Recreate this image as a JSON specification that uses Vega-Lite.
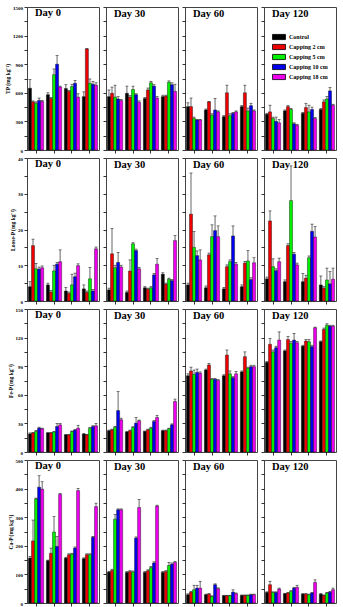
{
"$schema":"https://vega.github.io/schema/vega-lite/v6.json",
"padding":{"left":5,"top":4,"right":3,"bottom":2},
"datasets":{"p":[
{"v":"TP","d":0,"g":1,"s":"Control","y":648,"h":740},{"v":"TP","d":0,"g":1,"s":"Capping 2 cm","y":505,"h":515},{"v":"TP","d":0,"g":1,"s":"Capping 5 cm","y":490,"h":505},{"v":"TP","d":0,"g":1,"s":"Capping 10 cm","y":520,"h":545},{"v":"TP","d":0,"g":1,"s":"Capping 18 cm","y":510,"h":520},
{"v":"TP","d":0,"g":2,"s":"Control","y":580,"h":600},{"v":"TP","d":0,"g":2,"s":"Capping 2 cm","y":540,"h":550},{"v":"TP","d":0,"g":2,"s":"Capping 5 cm","y":790,"h":850},{"v":"TP","d":0,"g":2,"s":"Capping 10 cm","y":900,"h":990},{"v":"TP","d":0,"g":2,"s":"Capping 18 cm","y":660,"h":670},
{"v":"TP","d":0,"g":3,"s":"Control","y":645,"h":685},{"v":"TP","d":0,"g":3,"s":"Capping 2 cm","y":615,"h":625},{"v":"TP","d":0,"g":3,"s":"Capping 5 cm","y":665,"h":690},{"v":"TP","d":0,"g":3,"s":"Capping 10 cm","y":700,"h":730},{"v":"TP","d":0,"g":3,"s":"Capping 18 cm","y":555,"h":590},
{"v":"TP","d":0,"g":4,"s":"Control","y":560,"h":610},{"v":"TP","d":0,"g":4,"s":"Capping 2 cm","y":1060,"h":1065},{"v":"TP","d":0,"g":4,"s":"Capping 5 cm","y":700,"h":745},{"v":"TP","d":0,"g":4,"s":"Capping 10 cm","y":690,"h":720},{"v":"TP","d":0,"g":4,"s":"Capping 18 cm","y":680,"h":705},
{"v":"TP","d":30,"g":1,"s":"Control","y":560,"h":630},{"v":"TP","d":30,"g":1,"s":"Capping 2 cm","y":595,"h":660},{"v":"TP","d":30,"g":1,"s":"Capping 5 cm","y":555,"h":680},{"v":"TP","d":30,"g":1,"s":"Capping 10 cm","y":535,"h":560},{"v":"TP","d":30,"g":1,"s":"Capping 18 cm","y":520,"h":530},
{"v":"TP","d":30,"g":2,"s":"Control","y":595,"h":670},{"v":"TP","d":30,"g":2,"s":"Capping 2 cm","y":555,"h":570},{"v":"TP","d":30,"g":2,"s":"Capping 5 cm","y":635,"h":670},{"v":"TP","d":30,"g":2,"s":"Capping 10 cm","y":580,"h":590},{"v":"TP","d":30,"g":2,"s":"Capping 18 cm","y":500,"h":515},
{"v":"TP","d":30,"g":3,"s":"Control","y":540,"h":550},{"v":"TP","d":30,"g":3,"s":"Capping 2 cm","y":630,"h":650},{"v":"TP","d":30,"g":3,"s":"Capping 5 cm","y":705,"h":720},{"v":"TP","d":30,"g":3,"s":"Capping 10 cm","y":670,"h":685},{"v":"TP","d":30,"g":3,"s":"Capping 18 cm","y":545,"h":560},
{"v":"TP","d":30,"g":4,"s":"Control","y":560,"h":575},{"v":"TP","d":30,"g":4,"s":"Capping 2 cm","y":565,"h":575},{"v":"TP","d":30,"g":4,"s":"Capping 5 cm","y":710,"h":725},{"v":"TP","d":30,"g":4,"s":"Capping 10 cm","y":685,"h":705},{"v":"TP","d":30,"g":4,"s":"Capping 18 cm","y":615,"h":690},
{"v":"TP","d":60,"g":1,"s":"Control","y":455,"h":495},{"v":"TP","d":60,"g":1,"s":"Capping 2 cm","y":455,"h":545},{"v":"TP","d":60,"g":1,"s":"Capping 5 cm","y":330,"h":345},{"v":"TP","d":60,"g":1,"s":"Capping 10 cm","y":315,"h":320},{"v":"TP","d":60,"g":1,"s":"Capping 18 cm","y":315,"h":320},
{"v":"TP","d":60,"g":2,"s":"Control","y":420,"h":430},{"v":"TP","d":60,"g":2,"s":"Capping 2 cm","y":505,"h":510},{"v":"TP","d":60,"g":2,"s":"Capping 5 cm","y":365,"h":380},{"v":"TP","d":60,"g":2,"s":"Capping 10 cm","y":420,"h":540},{"v":"TP","d":60,"g":2,"s":"Capping 18 cm","y":400,"h":410},
{"v":"TP","d":60,"g":3,"s":"Control","y":350,"h":360},{"v":"TP","d":60,"g":3,"s":"Capping 2 cm","y":600,"h":680},{"v":"TP","d":60,"g":3,"s":"Capping 5 cm","y":360,"h":380},{"v":"TP","d":60,"g":3,"s":"Capping 10 cm","y":385,"h":395},{"v":"TP","d":60,"g":3,"s":"Capping 18 cm","y":400,"h":410},
{"v":"TP","d":60,"g":4,"s":"Control","y":455,"h":465},{"v":"TP","d":60,"g":4,"s":"Capping 2 cm","y":600,"h":680},{"v":"TP","d":60,"g":4,"s":"Capping 5 cm","y":410,"h":440},{"v":"TP","d":60,"g":4,"s":"Capping 10 cm","y":465,"h":490},{"v":"TP","d":60,"g":4,"s":"Capping 18 cm","y":410,"h":420},
{"v":"TP","d":120,"g":1,"s":"Control","y":375,"h":385},{"v":"TP","d":120,"g":1,"s":"Capping 2 cm","y":400,"h":470},{"v":"TP","d":120,"g":1,"s":"Capping 5 cm","y":330,"h":345},{"v":"TP","d":120,"g":1,"s":"Capping 10 cm","y":300,"h":345},{"v":"TP","d":120,"g":1,"s":"Capping 18 cm","y":285,"h":320},
{"v":"TP","d":120,"g":2,"s":"Control","y":410,"h":420},{"v":"TP","d":120,"g":2,"s":"Capping 2 cm","y":455,"h":465},{"v":"TP","d":120,"g":2,"s":"Capping 5 cm","y":425,"h":435},{"v":"TP","d":120,"g":2,"s":"Capping 10 cm","y":275,"h":285},{"v":"TP","d":120,"g":2,"s":"Capping 18 cm","y":260,"h":270},
{"v":"TP","d":120,"g":3,"s":"Control","y":385,"h":395},{"v":"TP","d":120,"g":3,"s":"Capping 2 cm","y":445,"h":490},{"v":"TP","d":120,"g":3,"s":"Capping 5 cm","y":400,"h":470},{"v":"TP","d":120,"g":3,"s":"Capping 10 cm","y":425,"h":450},{"v":"TP","d":120,"g":3,"s":"Capping 18 cm","y":330,"h":340},
{"v":"TP","d":120,"g":4,"s":"Control","y":425,"h":435},{"v":"TP","d":120,"g":4,"s":"Capping 2 cm","y":505,"h":525},{"v":"TP","d":120,"g":4,"s":"Capping 5 cm","y":535,"h":560},{"v":"TP","d":120,"g":4,"s":"Capping 10 cm","y":620,"h":655},{"v":"TP","d":120,"g":4,"s":"Capping 18 cm","y":470,"h":480},

{"v":"L","d":0,"g":1,"s":"Control","y":4.0,"h":5.4},{"v":"L","d":0,"g":1,"s":"Capping 2 cm","y":15.5,"h":17.3},{"v":"L","d":0,"g":1,"s":"Capping 5 cm","y":9.0,"h":10.5},{"v":"L","d":0,"g":1,"s":"Capping 10 cm","y":8.9,"h":9.5},{"v":"L","d":0,"g":1,"s":"Capping 18 cm","y":9.3,"h":9.8},
{"v":"L","d":0,"g":2,"s":"Control","y":4.5,"h":5.0},{"v":"L","d":0,"g":2,"s":"Capping 2 cm","y":2.5,"h":3.0},{"v":"L","d":0,"g":2,"s":"Capping 5 cm","y":8.4,"h":10.0},{"v":"L","d":0,"g":2,"s":"Capping 10 cm","y":10.3,"h":10.8},{"v":"L","d":0,"g":2,"s":"Capping 18 cm","y":11.0,"h":14.3},
{"v":"L","d":0,"g":3,"s":"Control","y":2.8,"h":3.8},{"v":"L","d":0,"g":3,"s":"Capping 2 cm","y":2.1,"h":2.5},{"v":"L","d":0,"g":3,"s":"Capping 5 cm","y":4.5,"h":7.5},{"v":"L","d":0,"g":3,"s":"Capping 10 cm","y":6.8,"h":7.8},{"v":"L","d":0,"g":3,"s":"Capping 18 cm","y":9.9,"h":10.4},
{"v":"L","d":0,"g":4,"s":"Control","y":3.4,"h":4.5},{"v":"L","d":0,"g":4,"s":"Capping 2 cm","y":2.4,"h":2.8},{"v":"L","d":0,"g":4,"s":"Capping 5 cm","y":6.2,"h":9.4},{"v":"L","d":0,"g":4,"s":"Capping 10 cm","y":2.8,"h":3.2},{"v":"L","d":0,"g":4,"s":"Capping 18 cm","y":14.6,"h":15.1},
{"v":"L","d":30,"g":1,"s":"Control","y":3.1,"h":3.6},{"v":"L","d":30,"g":1,"s":"Capping 2 cm","y":13.2,"h":20.3},{"v":"L","d":30,"g":1,"s":"Capping 5 cm","y":9.3,"h":10.0},{"v":"L","d":30,"g":1,"s":"Capping 10 cm","y":10.8,"h":13.6},{"v":"L","d":30,"g":1,"s":"Capping 18 cm","y":9.5,"h":10.0},
{"v":"L","d":30,"g":2,"s":"Control","y":2.4,"h":2.8},{"v":"L","d":30,"g":2,"s":"Capping 2 cm","y":8.4,"h":11.5},{"v":"L","d":30,"g":2,"s":"Capping 5 cm","y":16.0,"h":16.3},{"v":"L","d":30,"g":2,"s":"Capping 10 cm","y":14.1,"h":14.5},{"v":"L","d":30,"g":2,"s":"Capping 18 cm","y":9.0,"h":9.4},
{"v":"L","d":30,"g":3,"s":"Control","y":3.7,"h":4.0},{"v":"L","d":30,"g":3,"s":"Capping 2 cm","y":3.3,"h":3.6},{"v":"L","d":30,"g":3,"s":"Capping 5 cm","y":3.7,"h":4.0},{"v":"L","d":30,"g":3,"s":"Capping 10 cm","y":7.3,"h":7.7},{"v":"L","d":30,"g":3,"s":"Capping 18 cm","y":10.3,"h":11.9},
{"v":"L","d":30,"g":4,"s":"Control","y":7.5,"h":7.9},{"v":"L","d":30,"g":4,"s":"Capping 2 cm","y":4.7,"h":5.0},{"v":"L","d":30,"g":4,"s":"Capping 5 cm","y":6.1,"h":6.4},{"v":"L","d":30,"g":4,"s":"Capping 10 cm","y":5.7,"h":6.0},{"v":"L","d":30,"g":4,"s":"Capping 18 cm","y":16.9,"h":18.3},
{"v":"L","d":60,"g":1,"s":"Control","y":4.5,"h":5.0},{"v":"L","d":60,"g":1,"s":"Capping 2 cm","y":24.3,"h":35.8},{"v":"L","d":60,"g":1,"s":"Capping 5 cm","y":15.0,"h":19.4},{"v":"L","d":60,"g":1,"s":"Capping 10 cm","y":12.7,"h":14.0},{"v":"L","d":60,"g":1,"s":"Capping 18 cm","y":11.5,"h":14.3},
{"v":"L","d":60,"g":2,"s":"Control","y":3.7,"h":4.2},{"v":"L","d":60,"g":2,"s":"Capping 2 cm","y":12.9,"h":13.4},{"v":"L","d":60,"g":2,"s":"Capping 5 cm","y":18.0,"h":21.3},{"v":"L","d":60,"g":2,"s":"Capping 10 cm","y":19.7,"h":23.8},{"v":"L","d":60,"g":2,"s":"Capping 18 cm","y":18.0,"h":21.0},
{"v":"L","d":60,"g":3,"s":"Control","y":3.4,"h":3.8},{"v":"L","d":60,"g":3,"s":"Capping 2 cm","y":9.6,"h":10.1},{"v":"L","d":60,"g":3,"s":"Capping 5 cm","y":11.0,"h":11.5},{"v":"L","d":60,"g":3,"s":"Capping 10 cm","y":18.2,"h":21.0},{"v":"L","d":60,"g":3,"s":"Capping 18 cm","y":10.3,"h":10.8},
{"v":"L","d":60,"g":4,"s":"Control","y":4.0,"h":4.5},{"v":"L","d":60,"g":4,"s":"Capping 2 cm","y":10.6,"h":11.1},{"v":"L","d":60,"g":4,"s":"Capping 5 cm","y":11.2,"h":14.1},{"v":"L","d":60,"g":4,"s":"Capping 10 cm","y":6.0,"h":6.5},{"v":"L","d":60,"g":4,"s":"Capping 18 cm","y":10.7,"h":12.1},
{"v":"L","d":120,"g":1,"s":"Control","y":6.2,"h":6.7},{"v":"L","d":120,"g":1,"s":"Capping 2 cm","y":22.4,"h":25.2},{"v":"L","d":120,"g":1,"s":"Capping 5 cm","y":9.6,"h":11.8},{"v":"L","d":120,"g":1,"s":"Capping 10 cm","y":8.5,"h":9.0},{"v":"L","d":120,"g":1,"s":"Capping 18 cm","y":11.0,"h":12.0},
{"v":"L","d":120,"g":2,"s":"Control","y":5.4,"h":5.9},{"v":"L","d":120,"g":2,"s":"Capping 2 cm","y":15.5,"h":16.0},{"v":"L","d":120,"g":2,"s":"Capping 5 cm","y":28.1,"h":37.8},{"v":"L","d":120,"g":2,"s":"Capping 10 cm","y":13.1,"h":13.6},{"v":"L","d":120,"g":2,"s":"Capping 18 cm","y":10.1,"h":10.6},
{"v":"L","d":120,"g":3,"s":"Control","y":5.4,"h":7.7},{"v":"L","d":120,"g":3,"s":"Capping 2 cm","y":6.4,"h":7.2},{"v":"L","d":120,"g":3,"s":"Capping 5 cm","y":12.1,"h":12.6},{"v":"L","d":120,"g":3,"s":"Capping 10 cm","y":19.5,"h":21.5},{"v":"L","d":120,"g":3,"s":"Capping 18 cm","y":17.9,"h":20.8},
{"v":"L","d":120,"g":4,"s":"Control","y":4.5,"h":7.0},{"v":"L","d":120,"g":4,"s":"Capping 2 cm","y":3.6,"h":4.0},{"v":"L","d":120,"g":4,"s":"Capping 5 cm","y":5.9,"h":9.2},{"v":"L","d":120,"g":4,"s":"Capping 10 cm","y":4.8,"h":8.2},{"v":"L","d":120,"g":4,"s":"Capping 18 cm","y":6.1,"h":9.2},

{"v":"Fe","d":0,"g":1,"s":"Control","y":19,"h":20},{"v":"Fe","d":0,"g":1,"s":"Capping 2 cm","y":20,"h":20.5},{"v":"Fe","d":0,"g":1,"s":"Capping 5 cm","y":21.6,"h":22.5},{"v":"Fe","d":0,"g":1,"s":"Capping 10 cm","y":25,"h":26},{"v":"Fe","d":0,"g":1,"s":"Capping 18 cm","y":24.4,"h":25},
{"v":"Fe","d":0,"g":2,"s":"Control","y":20,"h":20.5},{"v":"Fe","d":0,"g":2,"s":"Capping 2 cm","y":20,"h":20.5},{"v":"Fe","d":0,"g":2,"s":"Capping 5 cm","y":21,"h":21.5},{"v":"Fe","d":0,"g":2,"s":"Capping 10 cm","y":26.8,"h":30},{"v":"Fe","d":0,"g":2,"s":"Capping 18 cm","y":28.5,"h":30},
{"v":"Fe","d":0,"g":3,"s":"Control","y":18,"h":18.5},{"v":"Fe","d":0,"g":3,"s":"Capping 2 cm","y":18,"h":18.5},{"v":"Fe","d":0,"g":3,"s":"Capping 5 cm","y":21.6,"h":22},{"v":"Fe","d":0,"g":3,"s":"Capping 10 cm","y":23,"h":23.5},{"v":"Fe","d":0,"g":3,"s":"Capping 18 cm","y":25,"h":28},
{"v":"Fe","d":0,"g":4,"s":"Control","y":18.8,"h":19.3},{"v":"Fe","d":0,"g":4,"s":"Capping 2 cm","y":18,"h":18.5},{"v":"Fe","d":0,"g":4,"s":"Capping 5 cm","y":25,"h":25.5},{"v":"Fe","d":0,"g":4,"s":"Capping 10 cm","y":26.8,"h":27.5},{"v":"Fe","d":0,"g":4,"s":"Capping 18 cm","y":27.5,"h":30},
{"v":"Fe","d":30,"g":1,"s":"Control","y":22.3,"h":23},{"v":"Fe","d":30,"g":1,"s":"Capping 2 cm","y":23.3,"h":24},{"v":"Fe","d":30,"g":1,"s":"Capping 5 cm","y":26,"h":27},{"v":"Fe","d":30,"g":1,"s":"Capping 10 cm","y":43.5,"h":63.4},{"v":"Fe","d":30,"g":1,"s":"Capping 18 cm","y":33.8,"h":35.5},
{"v":"Fe","d":30,"g":2,"s":"Control","y":21,"h":21.5},{"v":"Fe","d":30,"g":2,"s":"Capping 2 cm","y":22.3,"h":23},{"v":"Fe","d":30,"g":2,"s":"Capping 5 cm","y":25.8,"h":26.5},{"v":"Fe","d":30,"g":2,"s":"Capping 10 cm","y":30.3,"h":36.2},{"v":"Fe","d":30,"g":2,"s":"Capping 18 cm","y":32.8,"h":33.5},
{"v":"Fe","d":30,"g":3,"s":"Control","y":21.6,"h":22},{"v":"Fe","d":30,"g":3,"s":"Capping 2 cm","y":23.3,"h":24},{"v":"Fe","d":30,"g":3,"s":"Capping 5 cm","y":25,"h":26},{"v":"Fe","d":30,"g":3,"s":"Capping 10 cm","y":32,"h":33},{"v":"Fe","d":30,"g":3,"s":"Capping 18 cm","y":36.2,"h":38.5},
{"v":"Fe","d":30,"g":4,"s":"Control","y":22.3,"h":23},{"v":"Fe","d":30,"g":4,"s":"Capping 2 cm","y":22.3,"h":23},{"v":"Fe","d":30,"g":4,"s":"Capping 5 cm","y":24.4,"h":25},{"v":"Fe","d":30,"g":4,"s":"Capping 10 cm","y":28.6,"h":29.5},{"v":"Fe","d":30,"g":4,"s":"Capping 18 cm","y":53,"h":55.5},
{"v":"Fe","d":60,"g":1,"s":"Control","y":80,"h":82},{"v":"Fe","d":60,"g":1,"s":"Capping 2 cm","y":85,"h":89},{"v":"Fe","d":60,"g":1,"s":"Capping 5 cm","y":81.5,"h":86},{"v":"Fe","d":60,"g":1,"s":"Capping 10 cm","y":83.6,"h":87},{"v":"Fe","d":60,"g":1,"s":"Capping 18 cm","y":82.6,"h":84},
{"v":"Fe","d":60,"g":2,"s":"Control","y":86,"h":87},{"v":"Fe","d":60,"g":2,"s":"Capping 2 cm","y":91.3,"h":93},{"v":"Fe","d":60,"g":2,"s":"Capping 5 cm","y":76.3,"h":77},{"v":"Fe","d":60,"g":2,"s":"Capping 10 cm","y":76.3,"h":77},{"v":"Fe","d":60,"g":2,"s":"Capping 18 cm","y":75,"h":76},
{"v":"Fe","d":60,"g":3,"s":"Control","y":80,"h":81},{"v":"Fe","d":60,"g":3,"s":"Capping 2 cm","y":101.7,"h":107},{"v":"Fe","d":60,"g":3,"s":"Capping 5 cm","y":82,"h":85},{"v":"Fe","d":60,"g":3,"s":"Capping 10 cm","y":78,"h":79},{"v":"Fe","d":60,"g":3,"s":"Capping 18 cm","y":82,"h":84.5},
{"v":"Fe","d":60,"g":4,"s":"Control","y":84,"h":85},{"v":"Fe","d":60,"g":4,"s":"Capping 2 cm","y":100,"h":105},{"v":"Fe","d":60,"g":4,"s":"Capping 5 cm","y":87.8,"h":89},{"v":"Fe","d":60,"g":4,"s":"Capping 10 cm","y":89.5,"h":91},{"v":"Fe","d":60,"g":4,"s":"Capping 18 cm","y":89.5,"h":91},
{"v":"Fe","d":120,"g":1,"s":"Control","y":94,"h":95},{"v":"Fe","d":120,"g":1,"s":"Capping 2 cm","y":113,"h":119},{"v":"Fe","d":120,"g":1,"s":"Capping 5 cm","y":105,"h":107},{"v":"Fe","d":120,"g":1,"s":"Capping 10 cm","y":109.4,"h":111},{"v":"Fe","d":120,"g":1,"s":"Capping 18 cm","y":117.4,"h":126},
{"v":"Fe","d":120,"g":2,"s":"Control","y":106,"h":107},{"v":"Fe","d":120,"g":2,"s":"Capping 2 cm","y":118,"h":121},{"v":"Fe","d":120,"g":2,"s":"Capping 5 cm","y":114,"h":116},{"v":"Fe","d":120,"g":2,"s":"Capping 10 cm","y":117.4,"h":124.4},{"v":"Fe","d":120,"g":2,"s":"Capping 18 cm","y":114.6,"h":116},
{"v":"Fe","d":120,"g":3,"s":"Control","y":111,"h":112},{"v":"Fe","d":120,"g":3,"s":"Capping 2 cm","y":116.4,"h":118},{"v":"Fe","d":120,"g":3,"s":"Capping 5 cm","y":115.7,"h":118},{"v":"Fe","d":120,"g":3,"s":"Capping 10 cm","y":110.5,"h":112},{"v":"Fe","d":120,"g":3,"s":"Capping 18 cm","y":130.3,"h":131},
{"v":"Fe","d":120,"g":4,"s":"Control","y":115.7,"h":116.5},{"v":"Fe","d":120,"g":4,"s":"Capping 2 cm","y":128.6,"h":130},{"v":"Fe","d":120,"g":4,"s":"Capping 5 cm","y":133,"h":134.5},{"v":"Fe","d":120,"g":4,"s":"Capping 10 cm","y":132,"h":133},{"v":"Fe","d":120,"g":4,"s":"Capping 18 cm","y":132,"h":133},

{"v":"Ca","d":0,"g":1,"s":"Control","y":157,"h":163},{"v":"Ca","d":0,"g":1,"s":"Capping 2 cm","y":217,"h":290},{"v":"Ca","d":0,"g":1,"s":"Capping 5 cm","y":364,"h":367},{"v":"Ca","d":0,"g":1,"s":"Capping 10 cm","y":405,"h":445},{"v":"Ca","d":0,"g":1,"s":"Capping 18 cm","y":398,"h":424},
{"v":"Ca","d":0,"g":2,"s":"Control","y":148,"h":150},{"v":"Ca","d":0,"g":2,"s":"Capping 2 cm","y":174,"h":192},{"v":"Ca","d":0,"g":2,"s":"Capping 5 cm","y":248,"h":302},{"v":"Ca","d":0,"g":2,"s":"Capping 10 cm","y":198,"h":232},{"v":"Ca","d":0,"g":2,"s":"Capping 18 cm","y":380,"h":383},
{"v":"Ca","d":0,"g":3,"s":"Control","y":157,"h":160},{"v":"Ca","d":0,"g":3,"s":"Capping 2 cm","y":169,"h":172},{"v":"Ca","d":0,"g":3,"s":"Capping 5 cm","y":171,"h":174},{"v":"Ca","d":0,"g":3,"s":"Capping 10 cm","y":192,"h":196},{"v":"Ca","d":0,"g":3,"s":"Capping 18 cm","y":393,"h":401},
{"v":"Ca","d":0,"g":4,"s":"Control","y":155,"h":158},{"v":"Ca","d":0,"g":4,"s":"Capping 2 cm","y":169,"h":172},{"v":"Ca","d":0,"g":4,"s":"Capping 5 cm","y":169,"h":172},{"v":"Ca","d":0,"g":4,"s":"Capping 10 cm","y":230,"h":233},{"v":"Ca","d":0,"g":4,"s":"Capping 18 cm","y":337,"h":349},
{"v":"Ca","d":30,"g":1,"s":"Control","y":108,"h":111},{"v":"Ca","d":30,"g":1,"s":"Capping 2 cm","y":114,"h":118},{"v":"Ca","d":30,"g":1,"s":"Capping 5 cm","y":293,"h":310},{"v":"Ca","d":30,"g":1,"s":"Capping 10 cm","y":326,"h":329},{"v":"Ca","d":30,"g":1,"s":"Capping 18 cm","y":326,"h":329},
{"v":"Ca","d":30,"g":2,"s":"Control","y":107,"h":110},{"v":"Ca","d":30,"g":2,"s":"Capping 2 cm","y":110,"h":113},{"v":"Ca","d":30,"g":2,"s":"Capping 5 cm","y":108,"h":112},{"v":"Ca","d":30,"g":2,"s":"Capping 10 cm","y":227,"h":231},{"v":"Ca","d":30,"g":2,"s":"Capping 18 cm","y":334,"h":362},
{"v":"Ca","d":30,"g":3,"s":"Control","y":107,"h":110},{"v":"Ca","d":30,"g":3,"s":"Capping 2 cm","y":113,"h":116},{"v":"Ca","d":30,"g":3,"s":"Capping 5 cm","y":124,"h":128},{"v":"Ca","d":30,"g":3,"s":"Capping 10 cm","y":140,"h":144},{"v":"Ca","d":30,"g":3,"s":"Capping 18 cm","y":339,"h":342},
{"v":"Ca","d":30,"g":4,"s":"Control","y":107,"h":110},{"v":"Ca","d":30,"g":4,"s":"Capping 2 cm","y":110,"h":113},{"v":"Ca","d":30,"g":4,"s":"Capping 5 cm","y":131,"h":142},{"v":"Ca","d":30,"g":4,"s":"Capping 10 cm","y":136,"h":140},{"v":"Ca","d":30,"g":4,"s":"Capping 18 cm","y":142,"h":145},
{"v":"Ca","d":60,"g":1,"s":"Control","y":29,"h":32},{"v":"Ca","d":60,"g":1,"s":"Capping 2 cm","y":38,"h":41},{"v":"Ca","d":60,"g":1,"s":"Capping 5 cm","y":46.5,"h":62},{"v":"Ca","d":60,"g":1,"s":"Capping 10 cm","y":52,"h":62},{"v":"Ca","d":60,"g":1,"s":"Capping 18 cm","y":52,"h":76},
{"v":"Ca","d":60,"g":2,"s":"Control","y":29,"h":31},{"v":"Ca","d":60,"g":2,"s":"Capping 2 cm","y":31,"h":33},{"v":"Ca","d":60,"g":2,"s":"Capping 5 cm","y":23,"h":25},{"v":"Ca","d":60,"g":2,"s":"Capping 10 cm","y":64,"h":67},{"v":"Ca","d":60,"g":2,"s":"Capping 18 cm","y":50,"h":53},
{"v":"Ca","d":60,"g":3,"s":"Control","y":25.6,"h":27},{"v":"Ca","d":60,"g":3,"s":"Capping 2 cm","y":25.6,"h":27},{"v":"Ca","d":60,"g":3,"s":"Capping 5 cm","y":25.6,"h":27},{"v":"Ca","d":60,"g":3,"s":"Capping 10 cm","y":38,"h":46},{"v":"Ca","d":60,"g":3,"s":"Capping 18 cm","y":32.6,"h":35},
{"v":"Ca","d":60,"g":4,"s":"Control","y":26.7,"h":28},{"v":"Ca","d":60,"g":4,"s":"Capping 2 cm","y":26.7,"h":28},{"v":"Ca","d":60,"g":4,"s":"Capping 5 cm","y":26.7,"h":28},{"v":"Ca","d":60,"g":4,"s":"Capping 10 cm","y":29,"h":31},{"v":"Ca","d":60,"g":4,"s":"Capping 18 cm","y":29,"h":31},
{"v":"Ca","d":120,"g":1,"s":"Control","y":37,"h":39},{"v":"Ca","d":120,"g":1,"s":"Capping 2 cm","y":64,"h":76},{"v":"Ca","d":120,"g":1,"s":"Capping 5 cm","y":37,"h":39},{"v":"Ca","d":120,"g":1,"s":"Capping 10 cm","y":37,"h":39},{"v":"Ca","d":120,"g":1,"s":"Capping 18 cm","y":49,"h":52},
{"v":"Ca","d":120,"g":2,"s":"Control","y":32.6,"h":34},{"v":"Ca","d":120,"g":2,"s":"Capping 2 cm","y":35,"h":37},{"v":"Ca","d":120,"g":2,"s":"Capping 5 cm","y":40.7,"h":43},{"v":"Ca","d":120,"g":2,"s":"Capping 10 cm","y":52,"h":55},{"v":"Ca","d":120,"g":2,"s":"Capping 18 cm","y":54.7,"h":62},
{"v":"Ca","d":120,"g":3,"s":"Control","y":31,"h":33},{"v":"Ca","d":120,"g":3,"s":"Capping 2 cm","y":31,"h":33},{"v":"Ca","d":120,"g":3,"s":"Capping 5 cm","y":29,"h":31},{"v":"Ca","d":120,"g":3,"s":"Capping 10 cm","y":35,"h":37},{"v":"Ca","d":120,"g":3,"s":"Capping 18 cm","y":72,"h":81},
{"v":"Ca","d":120,"g":4,"s":"Control","y":31,"h":33},{"v":"Ca","d":120,"g":4,"s":"Capping 2 cm","y":26.7,"h":28},{"v":"Ca","d":120,"g":4,"s":"Capping 5 cm","y":35,"h":37},{"v":"Ca","d":120,"g":4,"s":"Capping 10 cm","y":38,"h":40},{"v":"Ca","d":120,"g":4,"s":"Capping 18 cm","y":46.5,"h":52}
]},
"data":{"name":"p"},
"columns":4,
"spacing":{"row":8,"column":7},
"bounds":"flush",
"concat":[
{"width":72,"height":143,"title":"Day 0","transform":[{"filter":"datum.v=='TP'&&datum.d==0"}],
 "encoding":{"x":{"field":"g","type":"nominal","title":null,"scale":{"paddingInner":0.15,"paddingOuter":0.08},"axis":{"labels":false}},"xOffset":{"field":"s","type":"nominal","sort":["Control","Capping 2 cm","Capping 5 cm","Capping 10 cm","Capping 18 cm"]},
 "y":{"field":"y","type":"quantitative","title":"TP (mg kg⁻¹)","scale":{"domain":[0,1500],"nice":false},"axis":{"values":[0,150,300,450,600,750,900,1050,1200,1350,1500],"format":"d","labelExpr":"datum.value % 300 == 0 ? datum.label : ''"}}},
 "layer":[{"mark":{"type":"bar","stroke":"#000","strokeWidth":0.4},"encoding":{"color":{"field":"s","type":"nominal","title":null,"scale":{"domain":["Control","Capping 2 cm","Capping 5 cm","Capping 10 cm","Capping 18 cm"],"range":["#000000","#EE0000","#00EE00","#0000EE","#EE00EE"]}}}},
 {"mark":{"type":"rule","color":"#000","strokeWidth":0.6},"encoding":{"y2":{"field":"h"}}},
 {"mark":{"type":"tick","color":"#000","thickness":0.7,"size":3},"encoding":{"y":{"field":"h","type":"quantitative","title":"TP (mg kg⁻¹)","scale":{"domain":[0,1500],"nice":false}}}}]},
{"width":72,"height":143,"title":"Day 30","transform":[{"filter":"datum.v=='TP'&&datum.d==30"}],
 "encoding":{"x":{"field":"g","type":"nominal","title":null,"scale":{"paddingInner":0.15,"paddingOuter":0.08},"axis":{"labels":false}},"xOffset":{"field":"s","type":"nominal","sort":["Control","Capping 2 cm","Capping 5 cm","Capping 10 cm","Capping 18 cm"]},
 "y":{"field":"y","type":"quantitative","title":null,"scale":{"domain":[0,1500],"nice":false},"axis":{"values":[0,150,300,450,600,750,900,1050,1200,1350,1500],"labels":false}}},
 "layer":[{"mark":{"type":"bar","stroke":"#000","strokeWidth":0.4},"encoding":{"color":{"field":"s","type":"nominal","title":null,"scale":{"domain":["Control","Capping 2 cm","Capping 5 cm","Capping 10 cm","Capping 18 cm"],"range":["#000000","#EE0000","#00EE00","#0000EE","#EE00EE"]}}}},
 {"mark":{"type":"rule","color":"#000","strokeWidth":0.6},"encoding":{"y2":{"field":"h"}}},
 {"mark":{"type":"tick","color":"#000","thickness":0.7,"size":3},"encoding":{"y":{"field":"h","type":"quantitative","title":null,"scale":{"domain":[0,1500],"nice":false}}}}]},
{"width":72,"height":143,"title":"Day 60","transform":[{"filter":"datum.v=='TP'&&datum.d==60"}],
 "encoding":{"x":{"field":"g","type":"nominal","title":null,"scale":{"paddingInner":0.15,"paddingOuter":0.08},"axis":{"labels":false}},"xOffset":{"field":"s","type":"nominal","sort":["Control","Capping 2 cm","Capping 5 cm","Capping 10 cm","Capping 18 cm"]},
 "y":{"field":"y","type":"quantitative","title":null,"scale":{"domain":[0,1500],"nice":false},"axis":{"values":[0,150,300,450,600,750,900,1050,1200,1350,1500],"labels":false}}},
 "layer":[{"mark":{"type":"bar","stroke":"#000","strokeWidth":0.4},"encoding":{"color":{"field":"s","type":"nominal","title":null,"scale":{"domain":["Control","Capping 2 cm","Capping 5 cm","Capping 10 cm","Capping 18 cm"],"range":["#000000","#EE0000","#00EE00","#0000EE","#EE00EE"]}}}},
 {"mark":{"type":"rule","color":"#000","strokeWidth":0.6},"encoding":{"y2":{"field":"h"}}},
 {"mark":{"type":"tick","color":"#000","thickness":0.7,"size":3},"encoding":{"y":{"field":"h","type":"quantitative","title":null,"scale":{"domain":[0,1500],"nice":false}}}}]},
{"width":72,"height":143,"title":"Day 120","transform":[{"filter":"datum.v=='TP'&&datum.d==120"}],
 "encoding":{"x":{"field":"g","type":"nominal","title":null,"scale":{"paddingInner":0.15,"paddingOuter":0.08},"axis":{"labels":false}},"xOffset":{"field":"s","type":"nominal","sort":["Control","Capping 2 cm","Capping 5 cm","Capping 10 cm","Capping 18 cm"]},
 "y":{"field":"y","type":"quantitative","title":null,"scale":{"domain":[0,1500],"nice":false},"axis":{"values":[0,150,300,450,600,750,900,1050,1200,1350,1500],"labels":false}}},
 "layer":[{"mark":{"type":"bar","stroke":"#000","strokeWidth":0.4},"encoding":{"color":{"field":"s","type":"nominal","title":null,"scale":{"domain":["Control","Capping 2 cm","Capping 5 cm","Capping 10 cm","Capping 18 cm"],"range":["#000000","#EE0000","#00EE00","#0000EE","#EE00EE"]}}}},
 {"mark":{"type":"rule","color":"#000","strokeWidth":0.6},"encoding":{"y2":{"field":"h"}}},
 {"mark":{"type":"tick","color":"#000","thickness":0.7,"size":3},"encoding":{"y":{"field":"h","type":"quantitative","title":null,"scale":{"domain":[0,1500],"nice":false}}}}]},

{"width":72,"height":143,"title":"Day 0","transform":[{"filter":"datum.v=='L'&&datum.d==0"}],
 "encoding":{"x":{"field":"g","type":"nominal","title":null,"scale":{"paddingInner":0.15,"paddingOuter":0.08},"axis":{"labels":false}},"xOffset":{"field":"s","type":"nominal","sort":["Control","Capping 2 cm","Capping 5 cm","Capping 10 cm","Capping 18 cm"]},
 "y":{"field":"y","type":"quantitative","title":"Loose-P (mg kg⁻¹)","scale":{"domain":[0,40],"nice":false},"axis":{"values":[0,5,10,15,20,25,30,35,40],"format":"d","labelExpr":"datum.value % 10 == 0 ? datum.label : ''"}}},
 "layer":[{"mark":{"type":"bar","stroke":"#000","strokeWidth":0.4},"encoding":{"color":{"field":"s","type":"nominal","title":null,"scale":{"domain":["Control","Capping 2 cm","Capping 5 cm","Capping 10 cm","Capping 18 cm"],"range":["#000000","#EE0000","#00EE00","#0000EE","#EE00EE"]}}}},
 {"mark":{"type":"rule","color":"#000","strokeWidth":0.6},"encoding":{"y2":{"field":"h"}}},
 {"mark":{"type":"tick","color":"#000","thickness":0.7,"size":3},"encoding":{"y":{"field":"h","type":"quantitative","title":"Loose-P (mg kg⁻¹)","scale":{"domain":[0,40],"nice":false}}}}]},
{"width":72,"height":143,"title":"Day 30","transform":[{"filter":"datum.v=='L'&&datum.d==30"}],
 "encoding":{"x":{"field":"g","type":"nominal","title":null,"scale":{"paddingInner":0.15,"paddingOuter":0.08},"axis":{"labels":false}},"xOffset":{"field":"s","type":"nominal","sort":["Control","Capping 2 cm","Capping 5 cm","Capping 10 cm","Capping 18 cm"]},
 "y":{"field":"y","type":"quantitative","title":null,"scale":{"domain":[0,40],"nice":false},"axis":{"values":[0,5,10,15,20,25,30,35,40],"labels":false}}},
 "layer":[{"mark":{"type":"bar","stroke":"#000","strokeWidth":0.4},"encoding":{"color":{"field":"s","type":"nominal","title":null,"scale":{"domain":["Control","Capping 2 cm","Capping 5 cm","Capping 10 cm","Capping 18 cm"],"range":["#000000","#EE0000","#00EE00","#0000EE","#EE00EE"]}}}},
 {"mark":{"type":"rule","color":"#000","strokeWidth":0.6},"encoding":{"y2":{"field":"h"}}},
 {"mark":{"type":"tick","color":"#000","thickness":0.7,"size":3},"encoding":{"y":{"field":"h","type":"quantitative","title":null,"scale":{"domain":[0,40],"nice":false}}}}]},
{"width":72,"height":143,"title":"Day 60","transform":[{"filter":"datum.v=='L'&&datum.d==60"}],
 "encoding":{"x":{"field":"g","type":"nominal","title":null,"scale":{"paddingInner":0.15,"paddingOuter":0.08},"axis":{"labels":false}},"xOffset":{"field":"s","type":"nominal","sort":["Control","Capping 2 cm","Capping 5 cm","Capping 10 cm","Capping 18 cm"]},
 "y":{"field":"y","type":"quantitative","title":null,"scale":{"domain":[0,40],"nice":false},"axis":{"values":[0,5,10,15,20,25,30,35,40],"labels":false}}},
 "layer":[{"mark":{"type":"bar","stroke":"#000","strokeWidth":0.4},"encoding":{"color":{"field":"s","type":"nominal","title":null,"scale":{"domain":["Control","Capping 2 cm","Capping 5 cm","Capping 10 cm","Capping 18 cm"],"range":["#000000","#EE0000","#00EE00","#0000EE","#EE00EE"]}}}},
 {"mark":{"type":"rule","color":"#000","strokeWidth":0.6},"encoding":{"y2":{"field":"h"}}},
 {"mark":{"type":"tick","color":"#000","thickness":0.7,"size":3},"encoding":{"y":{"field":"h","type":"quantitative","title":null,"scale":{"domain":[0,40],"nice":false}}}}]},
{"width":72,"height":143,"title":"Day 120","transform":[{"filter":"datum.v=='L'&&datum.d==120"}],
 "encoding":{"x":{"field":"g","type":"nominal","title":null,"scale":{"paddingInner":0.15,"paddingOuter":0.08},"axis":{"labels":false}},"xOffset":{"field":"s","type":"nominal","sort":["Control","Capping 2 cm","Capping 5 cm","Capping 10 cm","Capping 18 cm"]},
 "y":{"field":"y","type":"quantitative","title":null,"scale":{"domain":[0,40],"nice":false},"axis":{"values":[0,5,10,15,20,25,30,35,40],"labels":false}}},
 "layer":[{"mark":{"type":"bar","stroke":"#000","strokeWidth":0.4},"encoding":{"color":{"field":"s","type":"nominal","title":null,"scale":{"domain":["Control","Capping 2 cm","Capping 5 cm","Capping 10 cm","Capping 18 cm"],"range":["#000000","#EE0000","#00EE00","#0000EE","#EE00EE"]}}}},
 {"mark":{"type":"rule","color":"#000","strokeWidth":0.6},"encoding":{"y2":{"field":"h"}}},
 {"mark":{"type":"tick","color":"#000","thickness":0.7,"size":3},"encoding":{"y":{"field":"h","type":"quantitative","title":null,"scale":{"domain":[0,40],"nice":false}}}}]},

{"width":72,"height":143,"title":"Day 0","transform":[{"filter":"datum.v=='Fe'&&datum.d==0"}],
 "encoding":{"x":{"field":"g","type":"nominal","title":null,"scale":{"paddingInner":0.15,"paddingOuter":0.08},"axis":{"labels":false}},"xOffset":{"field":"s","type":"nominal","sort":["Control","Capping 2 cm","Capping 5 cm","Capping 10 cm","Capping 18 cm"]},
 "y":{"field":"y","type":"quantitative","title":"Fe-P (mg kg⁻¹)","scale":{"domain":[0,150],"nice":false},"axis":{"values":[0,15,30,45,60,75,90,105,120,135,150],"format":"d","labelExpr":"datum.value % 30 == 0 ? datum.label : ''"}}},
 "layer":[{"mark":{"type":"bar","stroke":"#000","strokeWidth":0.4},"encoding":{"color":{"field":"s","type":"nominal","title":null,"scale":{"domain":["Control","Capping 2 cm","Capping 5 cm","Capping 10 cm","Capping 18 cm"],"range":["#000000","#EE0000","#00EE00","#0000EE","#EE00EE"]}}}},
 {"mark":{"type":"rule","color":"#000","strokeWidth":0.6},"encoding":{"y2":{"field":"h"}}},
 {"mark":{"type":"tick","color":"#000","thickness":0.7,"size":3},"encoding":{"y":{"field":"h","type":"quantitative","title":"Fe-P (mg kg⁻¹)","scale":{"domain":[0,150],"nice":false}}}}]},
{"width":72,"height":143,"title":"Day 30","transform":[{"filter":"datum.v=='Fe'&&datum.d==30"}],
 "encoding":{"x":{"field":"g","type":"nominal","title":null,"scale":{"paddingInner":0.15,"paddingOuter":0.08},"axis":{"labels":false}},"xOffset":{"field":"s","type":"nominal","sort":["Control","Capping 2 cm","Capping 5 cm","Capping 10 cm","Capping 18 cm"]},
 "y":{"field":"y","type":"quantitative","title":null,"scale":{"domain":[0,150],"nice":false},"axis":{"values":[0,15,30,45,60,75,90,105,120,135,150],"labels":false}}},
 "layer":[{"mark":{"type":"bar","stroke":"#000","strokeWidth":0.4},"encoding":{"color":{"field":"s","type":"nominal","title":null,"scale":{"domain":["Control","Capping 2 cm","Capping 5 cm","Capping 10 cm","Capping 18 cm"],"range":["#000000","#EE0000","#00EE00","#0000EE","#EE00EE"]}}}},
 {"mark":{"type":"rule","color":"#000","strokeWidth":0.6},"encoding":{"y2":{"field":"h"}}},
 {"mark":{"type":"tick","color":"#000","thickness":0.7,"size":3},"encoding":{"y":{"field":"h","type":"quantitative","title":null,"scale":{"domain":[0,150],"nice":false}}}}]},
{"width":72,"height":143,"title":"Day 60","transform":[{"filter":"datum.v=='Fe'&&datum.d==60"}],
 "encoding":{"x":{"field":"g","type":"nominal","title":null,"scale":{"paddingInner":0.15,"paddingOuter":0.08},"axis":{"labels":false}},"xOffset":{"field":"s","type":"nominal","sort":["Control","Capping 2 cm","Capping 5 cm","Capping 10 cm","Capping 18 cm"]},
 "y":{"field":"y","type":"quantitative","title":null,"scale":{"domain":[0,150],"nice":false},"axis":{"values":[0,15,30,45,60,75,90,105,120,135,150],"labels":false}}},
 "layer":[{"mark":{"type":"bar","stroke":"#000","strokeWidth":0.4},"encoding":{"color":{"field":"s","type":"nominal","title":null,"scale":{"domain":["Control","Capping 2 cm","Capping 5 cm","Capping 10 cm","Capping 18 cm"],"range":["#000000","#EE0000","#00EE00","#0000EE","#EE00EE"]}}}},
 {"mark":{"type":"rule","color":"#000","strokeWidth":0.6},"encoding":{"y2":{"field":"h"}}},
 {"mark":{"type":"tick","color":"#000","thickness":0.7,"size":3},"encoding":{"y":{"field":"h","type":"quantitative","title":null,"scale":{"domain":[0,150],"nice":false}}}}]},
{"width":72,"height":143,"title":"Day 120","transform":[{"filter":"datum.v=='Fe'&&datum.d==120"}],
 "encoding":{"x":{"field":"g","type":"nominal","title":null,"scale":{"paddingInner":0.15,"paddingOuter":0.08},"axis":{"labels":false}},"xOffset":{"field":"s","type":"nominal","sort":["Control","Capping 2 cm","Capping 5 cm","Capping 10 cm","Capping 18 cm"]},
 "y":{"field":"y","type":"quantitative","title":null,"scale":{"domain":[0,150],"nice":false},"axis":{"values":[0,15,30,45,60,75,90,105,120,135,150],"labels":false}}},
 "layer":[{"mark":{"type":"bar","stroke":"#000","strokeWidth":0.4},"encoding":{"color":{"field":"s","type":"nominal","title":null,"scale":{"domain":["Control","Capping 2 cm","Capping 5 cm","Capping 10 cm","Capping 18 cm"],"range":["#000000","#EE0000","#00EE00","#0000EE","#EE00EE"]}}}},
 {"mark":{"type":"rule","color":"#000","strokeWidth":0.6},"encoding":{"y2":{"field":"h"}}},
 {"mark":{"type":"tick","color":"#000","thickness":0.7,"size":3},"encoding":{"y":{"field":"h","type":"quantitative","title":null,"scale":{"domain":[0,150],"nice":false}}}}]},

{"width":72,"height":143,"title":"Day 0","transform":[{"filter":"datum.v=='Ca'&&datum.d==0"}],
 "encoding":{"x":{"field":"g","type":"nominal","title":null,"scale":{"paddingInner":0.15,"paddingOuter":0.08},"axis":{"labels":false}},"xOffset":{"field":"s","type":"nominal","sort":["Control","Capping 2 cm","Capping 5 cm","Capping 10 cm","Capping 18 cm"]},
 "y":{"field":"y","type":"quantitative","title":"Ca-P (mg kg⁻¹)","scale":{"domain":[0,500],"nice":false},"axis":{"values":[0,50,100,150,200,250,300,350,400,450,500],"format":"d","labelExpr":"datum.value % 100 == 0 ? datum.label : ''"}}},
 "layer":[{"mark":{"type":"bar","stroke":"#000","strokeWidth":0.4},"encoding":{"color":{"field":"s","type":"nominal","title":null,"scale":{"domain":["Control","Capping 2 cm","Capping 5 cm","Capping 10 cm","Capping 18 cm"],"range":["#000000","#EE0000","#00EE00","#0000EE","#EE00EE"]}}}},
 {"mark":{"type":"rule","color":"#000","strokeWidth":0.6},"encoding":{"y2":{"field":"h"}}},
 {"mark":{"type":"tick","color":"#000","thickness":0.7,"size":3},"encoding":{"y":{"field":"h","type":"quantitative","title":"Ca-P (mg kg⁻¹)","scale":{"domain":[0,500],"nice":false}}}}]},
{"width":72,"height":143,"title":"Day 30","transform":[{"filter":"datum.v=='Ca'&&datum.d==30"}],
 "encoding":{"x":{"field":"g","type":"nominal","title":null,"scale":{"paddingInner":0.15,"paddingOuter":0.08},"axis":{"labels":false}},"xOffset":{"field":"s","type":"nominal","sort":["Control","Capping 2 cm","Capping 5 cm","Capping 10 cm","Capping 18 cm"]},
 "y":{"field":"y","type":"quantitative","title":null,"scale":{"domain":[0,500],"nice":false},"axis":{"values":[0,50,100,150,200,250,300,350,400,450,500],"labels":false}}},
 "layer":[{"mark":{"type":"bar","stroke":"#000","strokeWidth":0.4},"encoding":{"color":{"field":"s","type":"nominal","title":null,"scale":{"domain":["Control","Capping 2 cm","Capping 5 cm","Capping 10 cm","Capping 18 cm"],"range":["#000000","#EE0000","#00EE00","#0000EE","#EE00EE"]}}}},
 {"mark":{"type":"rule","color":"#000","strokeWidth":0.6},"encoding":{"y2":{"field":"h"}}},
 {"mark":{"type":"tick","color":"#000","thickness":0.7,"size":3},"encoding":{"y":{"field":"h","type":"quantitative","title":null,"scale":{"domain":[0,500],"nice":false}}}}]},
{"width":72,"height":143,"title":"Day 60","transform":[{"filter":"datum.v=='Ca'&&datum.d==60"}],
 "encoding":{"x":{"field":"g","type":"nominal","title":null,"scale":{"paddingInner":0.15,"paddingOuter":0.08},"axis":{"labels":false}},"xOffset":{"field":"s","type":"nominal","sort":["Control","Capping 2 cm","Capping 5 cm","Capping 10 cm","Capping 18 cm"]},
 "y":{"field":"y","type":"quantitative","title":null,"scale":{"domain":[0,500],"nice":false},"axis":{"values":[0,50,100,150,200,250,300,350,400,450,500],"labels":false}}},
 "layer":[{"mark":{"type":"bar","stroke":"#000","strokeWidth":0.4},"encoding":{"color":{"field":"s","type":"nominal","title":null,"scale":{"domain":["Control","Capping 2 cm","Capping 5 cm","Capping 10 cm","Capping 18 cm"],"range":["#000000","#EE0000","#00EE00","#0000EE","#EE00EE"]}}}},
 {"mark":{"type":"rule","color":"#000","strokeWidth":0.6},"encoding":{"y2":{"field":"h"}}},
 {"mark":{"type":"tick","color":"#000","thickness":0.7,"size":3},"encoding":{"y":{"field":"h","type":"quantitative","title":null,"scale":{"domain":[0,500],"nice":false}}}}]},
{"width":72,"height":143,"title":"Day 120","transform":[{"filter":"datum.v=='Ca'&&datum.d==120"}],
 "encoding":{"x":{"field":"g","type":"nominal","title":null,"scale":{"paddingInner":0.15,"paddingOuter":0.08},"axis":{"labels":false}},"xOffset":{"field":"s","type":"nominal","sort":["Control","Capping 2 cm","Capping 5 cm","Capping 10 cm","Capping 18 cm"]},
 "y":{"field":"y","type":"quantitative","title":null,"scale":{"domain":[0,500],"nice":false},"axis":{"values":[0,50,100,150,200,250,300,350,400,450,500],"labels":false}}},
 "layer":[{"mark":{"type":"bar","stroke":"#000","strokeWidth":0.4},"encoding":{"color":{"field":"s","type":"nominal","title":null,"scale":{"domain":["Control","Capping 2 cm","Capping 5 cm","Capping 10 cm","Capping 18 cm"],"range":["#000000","#EE0000","#00EE00","#0000EE","#EE00EE"]}}}},
 {"mark":{"type":"rule","color":"#000","strokeWidth":0.6},"encoding":{"y2":{"field":"h"}}},
 {"mark":{"type":"tick","color":"#000","thickness":0.7,"size":3},"encoding":{"y":{"field":"h","type":"quantitative","title":null,"scale":{"domain":[0,500],"nice":false}}}}]}
],
"config":{
 "font":"Liberation Serif",
 "view":{"stroke":"#444","strokeWidth":1},
 "axis":{"domain":false,"grid":false,"tickColor":"#000","tickSize":3,"tickWidth":0.8,"labelFont":"Liberation Serif","labelFontSize":5,"labelFontWeight":"bold","labelColor":"#000","labelPadding":1.5,"titleFont":"Liberation Serif","titleFontSize":5.5,"titleFontWeight":"bold","titleColor":"#000","titlePadding":2},
 "title":{"anchor":"start","frame":"group","font":"Liberation Serif","fontSize":10.5,"fontWeight":"bold","color":"#000","offset":0,"dx":8,"dy":17,"baseline":"alphabetic"},
 "legend":{"orient":"none","legendX":248,"legendY":26,"symbolType":"M-2,-0.8H2V0.8H-2Z","symbolSize":42,"symbolStrokeColor":"#000","symbolStrokeWidth":0.8,"labelFont":"Liberation Serif","labelFontSize":6,"labelFontWeight":"bold","labelColor":"#000","labelOffset":6,"rowPadding":0,"padding":0}
}
}
